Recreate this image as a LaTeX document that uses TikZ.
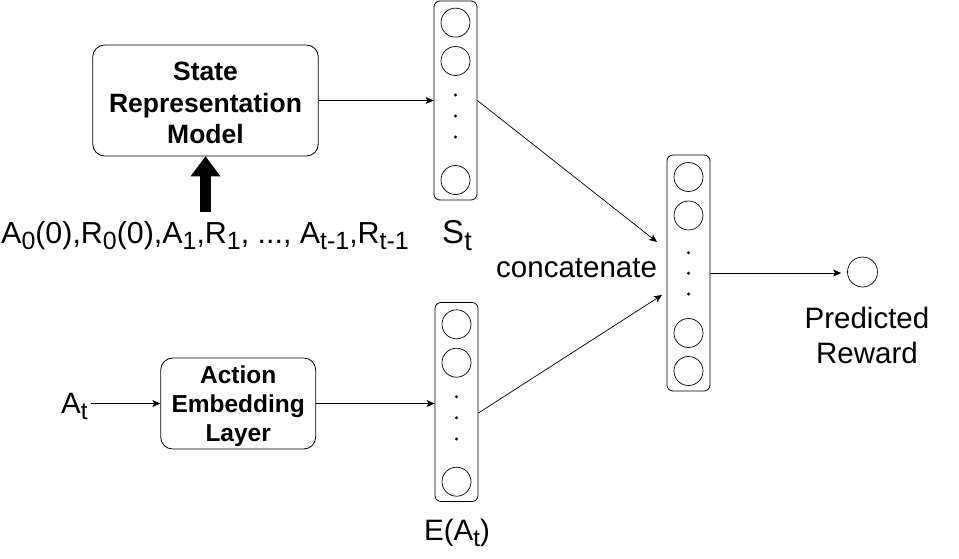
\documentclass[tikz,border=0pt]{standalone}
\usepackage{fontspec}
\setmainfont{Liberation Sans}
\usetikzlibrary{arrows.meta}
\newcommand\subs[1]{\raisebox{-0.22em}{\scalebox{0.82}{#1}}}
\begin{document}
\begin{tikzpicture}[x=1pt,y=-1pt,
  box/.style={draw, rounded corners=12pt, line width=0.8pt, inner sep=0pt},
  boxtext/.style={align=center, font=\bfseries\fontsize{26.5}{31.5}\selectfont, inner sep=0pt},
  col/.style={draw, rounded corners=6pt, line width=0.8pt, minimum width=43pt, inner sep=0pt},
  neuron/.style={draw, circle, minimum size=29pt, inner sep=0pt, line width=0.7pt},
  lbl/.style={font=\fontsize{29.5}{35}\selectfont, inner sep=0pt, align=center},
  conn/.style={-{Stealth[length=8pt,width=7pt,inset=2pt]}, line width=0.7pt},
  dotn/.style={fill, circle, minimum size=3.2pt, inner sep=0pt}
]
\useasboundingbox (0,0) rectangle (959,558);

% boxes
\node[box, minimum width=225.6pt, minimum height=111pt] (srm) at (205.5,100.5) {};
\node[boxtext] (srmt) at ([yshift=-2.5pt]srm.center) {State\\Representation\\Model};
\node[box, minimum width=155pt, minimum height=91pt] (ael) at (238.2,403.5) {};
\node[boxtext, font=\bfseries\fontsize{24.5}{29}\selectfont] (aelt) at ([yshift=-3pt]ael.center) {Action\\Embedding\\Layer};

% columns
\node[col, minimum height=199pt] (scol) at (455.5,100.5) {};
\node[col, minimum height=199pt] (ecol) at (456.5,402) {};
\node[col, minimum height=236pt] (ccol) at (688.5,273) {};

% neurons S
\node[neuron] (s1) at (455.5,22.6) {};
\node[neuron] (s2) at (455.5,61) {};
\node[neuron] (s3) at (455.5,180) {};
\node[dotn] (sd1) at (455.5,95) {};
\node[dotn] (sd2) at (455.5,116) {};
\node[dotn] (sd3) at (455.5,137) {};
% neurons E
\node[neuron] (e1) at (456.5,324.3) {};
\node[neuron] (e2) at (456.5,362.7) {};
\node[neuron] (e3) at (456.5,481.7) {};
\node[dotn] (ed1) at (456.5,396.7) {};
\node[dotn] (ed2) at (456.5,417.7) {};
\node[dotn] (ed3) at (456.5,439) {};
% neurons concat
\node[neuron] (c1) at (688.5,177) {};
\node[neuron] (c2) at (688.5,215.5) {};
\node[neuron] (c3) at (688.5,333) {};
\node[neuron] (c4) at (688.5,371) {};
\node[dotn] (cd1) at (688.5,252.7) {};
\node[dotn] (cd2) at (688.5,273.3) {};
\node[dotn] (cd3) at (688.5,294) {};
% output
\node[neuron, minimum size=30pt] (out) at (862.5,272) {};

% labels
\node[lbl, anchor=base, font=\fontsize{30.4}{35}\selectfont] (seq) at (205,243) {A\subs{0}(0),R\subs{0}(0),A\subs{1},R\subs{1}, ..., A\subs{t-1},R\subs{t-1}};
\node[lbl, anchor=base, font=\fontsize{33}{38}\selectfont] (slab) at (457,243) {S\subs{t}};
\node[lbl, anchor=base] (elab) at (457,540) {E(A\subs{t})};
\node[lbl, anchor=base west] (alab) at (61,413) {A\subs{t}};
\node[lbl, anchor=base west] (concat) at (496,277) {concatenate};
\node[lbl, anchor=base] (pred) at (867,363) {Predicted\\Reward};

% big arrow
\coordinate (abase) at (205.5,212);
\draw[line width=11pt, -{Triangle[length=20pt,width=30pt,line width=0pt]}] (abase) -- (srm.south);

% connectors
\coordinate (t1) at (657,242);
\coordinate (t2) at (662,295);
\draw[conn] (srm.east) -- (scol.west);
\draw[conn] (ael.east) -- (ael.east -| ecol.west);
\draw[conn] ([xshift=3pt]alab.east |- ael.west) -- (ael.west);
\draw[conn] (scol.east) -- (t1);
\draw[conn] ([yshift=-11pt]ecol.east) -- (t2);
\draw[conn, shorten >=6pt] (ccol.east) -- (ccol.east -| out.west);
\end{tikzpicture}
\end{document}
